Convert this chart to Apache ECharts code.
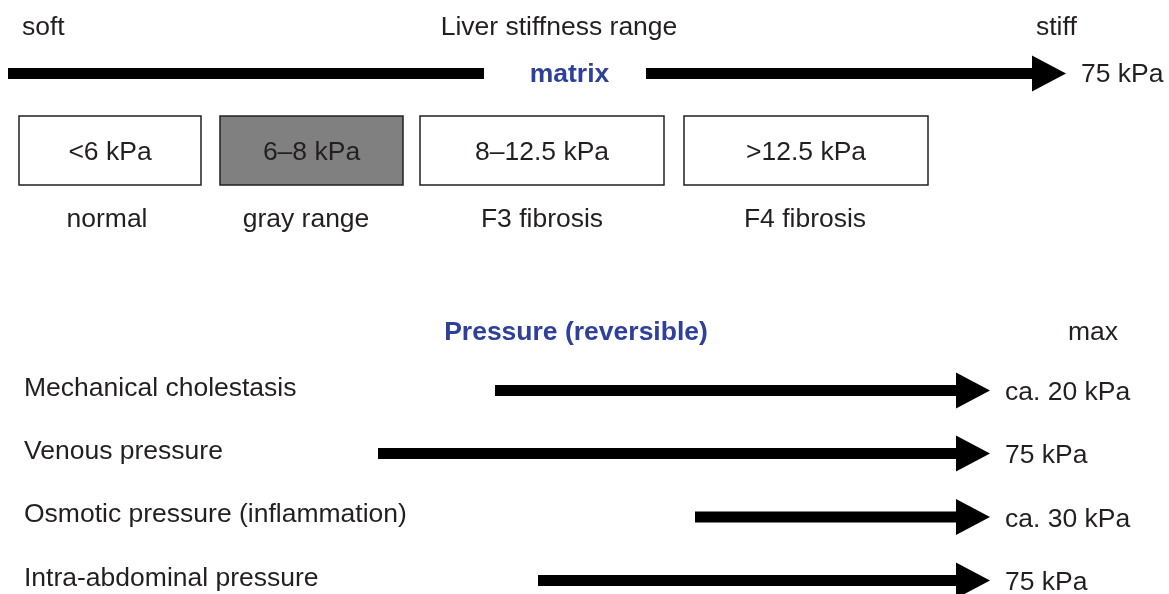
<!DOCTYPE html>
<html>
<head>
<meta charset="utf-8">
<title>Liver stiffness range</title>
<script src="https://cdn.jsdelivr.net/npm/echarts@6/dist/echarts.min.js"></script>
<style>
  html, body { margin: 0; background: #fff; }
  #chart { width: 1169px; height: 594px; }
</style>
</head>
<body>
<div id="chart"></div>
<script>
// liver stiffness boxes
const rangeLabels = ['<6 kPa', '6–8 kPa', '8–12.5 kPa', '>12.5 kPa']
const stageLabels = ['normal', 'gray range', 'F3 fibrosis', 'F4 fibrosis']
const rangeFrom = [19, 220, 420, 684]
const rangeTo = [201, 403, 664, 928]
const stageCenter = [107, 306, 542, 805]
const shaded = [false, true, false, false]

// matrix bar: plain segment, then arrow up to 75 kPa
const matrixFrom = [8, 646]
const matrixTo = [484, 1066]
const matrixHead = [0, 1]

// pressure causes and their maximum
const pressureLabels = ['Mechanical cholestasis', 'Venous pressure', 'Osmotic pressure (inflammation)', 'Intra-abdominal pressure']
const pressureFrom = [495, 378, 695, 538]
const pressureTo = [990, 990, 990, 990]
const pressureMax = ['ca. 20 kPa', '75 kPa', 'ca. 30 kPa', '75 kPa']
const rowY = [390.5, 453.5, 517, 580.5]

const FONT = 'Liberation Sans'
const SIZE = 26.5
const INK = '#231f20'
const BLUE = '#2e409b'

const chart = echarts.init(document.getElementById('chart'))

const arrowItem = (params, api) => {
  const a = api.coord([api.value(0), api.value(2)])
  const b = api.coord([api.value(1), api.value(2)])
  const head = api.value(3) ? 34 : 0
  const children = [{
    type: 'rect',
    shape: { x: a[0], y: a[1] - 5.5, width: b[0] - head - a[0], height: 11 },
    style: { fill: '#000' }
  }]
  if (head) {
    children.push({
      type: 'polygon',
      shape: { points: [[b[0] - head, b[1] - 18], [b[0], b[1]], [b[0] - head, b[1] + 18]] },
      style: { fill: '#000' }
    })
  }
  return { type: 'group', children }
}

const boxItem = (params, api) => {
  const p0 = api.coord([api.value(0), 116])
  const p1 = api.coord([api.value(1), 185])
  const i = params.dataIndex
  return {
    type: 'group',
    children: [
      {
        type: 'rect',
        shape: { x: p0[0], y: p0[1], width: p1[0] - p0[0], height: p1[1] - p0[1] },
        style: { fill: shaded[i] ? '#808080' : '#fff', stroke: INK, lineWidth: 1.5 }
      },
      {
        type: 'text',
        x: (p0[0] + p1[0]) / 2,
        y: (p0[1] + p1[1]) / 2 + 2,
        style: { text: rangeLabels[i], fontFamily: FONT, fontSize: SIZE, fill: INK, align: 'center', verticalAlign: 'middle' }
      }
    ]
  }
}

// plain text labels: [x, y], text, align, bold, colour
const texts = [
  { value: [22, 28], text: 'soft' },
  { value: [559, 28], text: 'Liver stiffness range', align: 'center' },
  { value: [1036, 28], text: 'stiff' },
  { value: [569.5, 75], text: 'matrix', align: 'center', bold: true, color: BLUE },
  { value: [1081, 75], text: '75 kPa' },
  { value: [576, 333], text: 'Pressure (reversible)', align: 'center', bold: true, color: BLUE },
  { value: [1068, 333], text: 'max' },
  ...stageLabels.map((t, i) => ({ value: [stageCenter[i], 220], text: t, align: 'center' })),
  ...pressureLabels.map((t, i) => ({ value: [24, rowY[i] - 2], text: t })),
  ...pressureMax.map((t, i) => ({ value: [1005, rowY[i] + 2.5], text: t }))
]

const textItem = (params, api) => {
  const t = texts[params.dataIndex]
  const p = api.coord([api.value(0), api.value(1)])
  return {
    type: 'text',
    x: p[0],
    y: p[1],
    style: {
      text: t.text,
      fontFamily: FONT,
      fontSize: SIZE,
      fontWeight: t.bold ? 'bold' : 'normal',
      fill: t.color || INK,
      align: t.align || 'left',
      verticalAlign: 'middle'
    }
  }
}

chart.setOption({
  animation: false,
  backgroundColor: '#fff',
  grid: { left: 0, right: 0, top: 0, bottom: 0 },
  xAxis: { type: 'value', min: 0, max: 1169, show: false },
  yAxis: { type: 'value', min: 0, max: 594, inverse: true, show: false },
  series: [
    {
      type: 'custom',
      name: 'ranges',
      silent: true,
      renderItem: boxItem,
      data: rangeFrom.map((x, i) => [x, rangeTo[i]])
    },
    {
      type: 'custom',
      name: 'matrix',
      silent: true,
      renderItem: arrowItem,
      data: matrixFrom.map((x, i) => [x, matrixTo[i], 73.5, matrixHead[i]])
    },
    {
      type: 'custom',
      name: 'pressure',
      silent: true,
      renderItem: arrowItem,
      data: pressureFrom.map((x, i) => [x, pressureTo[i], rowY[i], 1])
    },
    {
      type: 'custom',
      name: 'labels',
      silent: true,
      renderItem: textItem,
      data: texts.map(t => t.value)
    }
  ]
})

window.addEventListener('resize', () => chart.resize())
</script>
</body>
</html>
